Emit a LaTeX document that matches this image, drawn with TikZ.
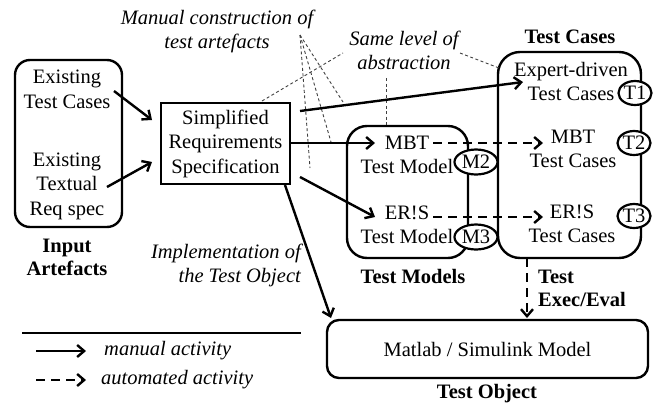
\documentclass[tikz,border=0pt]{standalone}
\usepackage{fontspec}
\setmainfont{Liberation Serif}
\usetikzlibrary{arrows.meta,shapes.geometric}
\tikzset{
  txt/.style={font=\fontsize{20.5}{24.5}\selectfont, inner sep=0pt, align=center},
  ital/.style={txt, font=\fontsize{20.5}{24}\selectfont\itshape},
  bold/.style={txt, font=\fontsize{20.5}{23}\selectfont\bfseries},
  rbox/.style={draw, line width=2.4pt, rounded corners=#1, inner sep=0pt, txt},
  sbox/.style={draw, line width=2.4pt, inner sep=0pt, txt},
  tag/.style={draw, ellipse, line width=2.2pt, fill=white, inner sep=0pt, minimum width=33pt, minimum height=24pt, txt},
  man/.style={line width=2.4pt, -{Straight Barb[length=7pt,width=12pt]}},
  autoarr/.style={man, dash pattern=on 9pt off 6pt},
  guide/.style={line width=0.9pt, dash pattern=on 3pt off 2.5pt, black!75}
}
\begin{document}
\begin{tikzpicture}[x=1pt,y=-1pt]
\useasboundingbox (0,0) rectangle (657,405);

% boxes
\node[rbox=15pt, minimum width=107pt, minimum height=167pt] (inbox) at (68.5,143.5) {};
\node[txt] (extc) at (67,89.5) {Existing\\Test Cases};
\node[txt] (exreq) at (67,186) {Existing\\Textual\\Req spec};
\node[bold] (inlbl) at (67,257) {Input\\Artefacts};

\node[sbox, minimum width=129pt, minimum height=81pt] (srs) at (225.5,143.5) {Simplified\\Requirements\\Specification};

\node[rbox=20pt, minimum width=121pt, minimum height=132pt] (tmbox) at (407.5,192) {};
\node[txt] (mbtm) at (407,155) {MBT\\Test Model};
\node[txt] (ersm) at (407,225) {ER!S\\Test Model};
\node[bold] (tmlbl) at (413,276) {Test Models};

\node[rbox=22pt, minimum width=143pt, minimum height=206pt] (tcbox) at (569.5,155) {};
\node[bold] (tclbl) at (570,37) {Test Cases};
\node[txt] (exptc) at (571,81.5) {Expert-driven\\Test Cases};
\node[txt] (mbttc) at (573,149) {MBT\\Test Cases};
\node[txt] (erstc) at (572,224) {ER!S\\Test Cases};

\node[rbox=12pt, minimum width=321pt, minimum height=58pt] (mat) at (487.5,349) {Matlab / Simulink Model};
\node[bold] (tolbl) at (487,394) {Test Object};
\node[bold, align=left, anchor=west] (exlbl) at (538,288) {Test\\Exec/Eval};

% italic labels
\node[ital] (mclbl) at (217,31.5) {Manual construction of\\test artefacts};
\node[ital] (sllbl) at (404,50) {Same level of\\abstraction};
\node[ital, align=right, anchor=east] (implbl) at (301,265) {Implementation of\\the Test Object};

% guide lines
\coordinate (fan) at (300,35);
\coordinate (fanA) at (310,168);
\coordinate (fanB) at (331,142);
\coordinate (fanC) at (343,102);
\draw[guide] (fan) -- (fanA);
\draw[guide] (fan) -- (fanB);
\draw[guide] (fan) -- (fanC);
\coordinate (slA1) at (262,101);
\coordinate (slA2) at (343,53);
\coordinate (slB1) at (386,78);
\coordinate (slC1) at (460,53);
\coordinate (slC2) at (499,68);
\draw[guide] (slA1) -- (slA2);
\draw[guide] (slB1) -- (slB1 |- tmbox.north);
\draw[guide] (slC1) -- (slC2);

% manual arrows
\coordinate (a1s) at (114,91);   \coordinate (a1e) at (152,120);
\coordinate (a2s) at (107,187);  \coordinate (a2e) at (152,162);
\coordinate (a3s) at (300,111);  \coordinate (a3e) at (523,82);
\coordinate (a4s) at (290,143);  \coordinate (a4e) at (375,143);
\coordinate (a5s) at (300,177);  \coordinate (a5e) at (375,217);
\coordinate (a6s) at (285,185);  \coordinate (a6e) at (331,318);
\draw[man] (a1s) -- (a1e);
\draw[man] (a2s) -- (a2e);
\draw[man] (a3s) -- (a3e);
\draw[man] (a4s) -- (a4e);
\draw[man] (a5s) -- (a5e);
\draw[man] (a6s) -- (a6e);

% automated arrows
\coordinate (d1s) at (433,143);  \coordinate (d1e) at (543,143);
\coordinate (d2s) at (433,217);  \coordinate (d2e) at (543,217);
\coordinate (d3s) at (527,258);  \coordinate (d3e) at (527,318);
\draw[autoarr] (d1s) -- (d1e);
\draw[autoarr] (d2s) -- (d2e);
\draw[autoarr] (d3s) -- (d3e);

% tags
\node[tag, minimum width=43pt, minimum height=25pt] (m2) at (476,162) {M2};
\node[tag, minimum width=43pt, minimum height=25pt] (m3) at (476,237) {M3};
\node[tag] (t1) at (635,93) {T1};
\node[tag] (t2) at (634,143) {T2};
\node[tag] (t3) at (634,216) {T3};

% legend
\coordinate (lgA) at (22,333);  \coordinate (lgB) at (301,333);
\draw[line width=1.2pt] (lgA) -- (lgB);
\coordinate (lm1) at (36,351);  \coordinate (lm2) at (86,351);
\draw[man] (lm1) -- (lm2);
\node[ital, anchor=west] (lmtxt) at (104,351) {manual activity};
\coordinate (la1) at (36,380);  \coordinate (la2) at (86,380);
\draw[autoarr] (la1) -- (la2);
\node[ital, anchor=west] (latxt) at (101,380) {automated activity};
\end{tikzpicture}
\end{document}
